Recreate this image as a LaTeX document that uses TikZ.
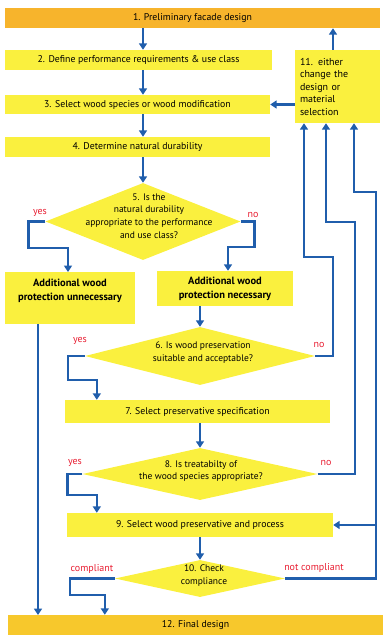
\documentclass[tikz,border=0pt]{standalone}
\usepackage{fontspec}
\setmainfont{PT Sans}
\usetikzlibrary{positioning,arrows.meta,shapes.geometric,calc}
\definecolor{flowblue}{RGB}{32,94,172}
\definecolor{stepyellow}{RGB}{250,240,62}
\definecolor{startorange}{RGB}{247,180,44}
\definecolor{finalorange}{RGB}{247,200,44}
\definecolor{answerred}{RGB}{232,30,50}

\begin{document}
\begin{tikzpicture}[
    x=1pt, y=-1pt,
    stepbox/.style={fill=stepyellow, inner sep=0pt, align=center,
                    font=\fontsize{9.8}{11}\selectfont},
    protbox/.style={stepbox, font=\fontsize{10.5}{14}\selectfont\bfseries},
    dia/.style={diamond, fill=stepyellow, inner sep=0pt},
    qtext/.style={align=center, inner sep=0pt, font=\fontsize{9.5}{12.8}\selectfont},
    arr/.style={-{Triangle[length=6.5pt,width=8pt]}, draw=flowblue, line width=2.5pt},
    ans/.style={font=\fontsize{10}{11}\selectfont, text=answerred, inner sep=1pt}
  ]
  \useasboundingbox (0,0) rectangle (389,640);

  % ===== Upper steps =====
  \node[stepbox, fill=startorange, minimum width=375pt, minimum height=20pt] (b1) at (192.5,18) {1. Preliminary facade design};
  \node[stepbox, minimum width=267pt, minimum height=20pt] (b2) at (138.5,60) {2. Define performance requirements \& use class};
  \node[stepbox, minimum width=265pt, minimum height=19pt] (b3) at (137.5,104.5) {3. Select wood species or wood modification};
  \node[stepbox, minimum width=265pt, minimum height=20pt] (b4) at (137.5,147) {4. Determine natural durability};
  \node[stepbox, align=left, text width=75pt, minimum width=85pt, minimum height=73pt,
        font=\fontsize{10}{12.5}\selectfont] (b11) at (337.5,86.5) {11. either\\change the\\design or\\material\\selection};

  \draw[arr] (b1.south -| b4.south) ++(5.5,0) -- ($(b2.north)+(4.5,0)$);
  \draw[arr] ($(b2.south)+(4.5,0)$) -- ($(b3.north)+(5.5,0)$);
  \draw[arr] ($(b3.south)+(5.5,0)$) -- ($(b4.north)+(5.5,0)$);
  \draw[arr] ([xshift=-4.5pt]b11.north) -- ([xshift=-4.5pt]b11.north |- b1.south);
  \draw[arr] (b11.west |- b3.east) -- (b3.east);

  % ===== Question 5: natural durability =====
  \node[dia, minimum width=195pt, minimum height=77pt] (d5) at (143,221.5) {};
  \node[qtext] (q5) at (149,216) {5. Is the\\natural durability\\appropriate to the performance\\and use class?};
  \draw[arr] ($(b4.south)+(5.5,0)$) -- (d5.north);
  \node[protbox, text depth=16pt, inner ysep=7pt, minimum width=130pt] (nu) at (70,272) [anchor=north] {Additional wood\\protection unnecessary};
  \node[protbox, minimum width=136pt, minimum height=35pt] (nn) at (225,288.5) {Additional wood\\protection necessary};
  \draw[arr] (d5.west) -- ++(-17,0) |- ($(nu.north)+(-2,-24)$) -- ($(nu.north)+(-2,0)$);
  \draw[arr] (d5.east) -- ++(14,0) |- ($(nn.north)+(3,-24)$) -- ($(nn.north)+(3,0)$);
  \node[ans] (y5) at (40,213) {yes};
  \node[ans] (n5) at (253,215) {no};
  \draw[arr] ([xshift=-32pt]nu.south) -- ([xshift=-32pt]nu.south |- 0,615);

  % ===== Question 6: wood preservation =====
  \node[dia, minimum width=230pt, minimum height=58pt] (d6) at (200,356) {};
  \node[qtext] (q6) at (203,352.5) {6. Is wood preservation\\suitable and acceptable?};
  \draw[arr] (nn.south -| d6.north) -- (d6.north);
  \node[stepbox, minimum width=265pt, minimum height=23pt] (b7) at (197.5,411.5) {7. Select preservative specification};
  \draw[arr] (d6.west) -- ++(-17,0) |- ($(b7.north west)+(32,-20)$) -- ($(b7.north west)+(32,0)$);
  \draw[arr] (d6.east) -- ++(18,0) |- ($(b11.south)+(-33.5,134)$) -- ($(b11.south)+(-33.5,0)$);
  \node[ans] (y6) at (80,341) {yes};
  \node[ans] (n6) at (319,345) {no};

  % ===== Question 8: treatability =====
  \node[dia, minimum width=235pt, minimum height=52pt] (d8) at (200,474) {};
  \node[qtext] (q8) at (201,471) {8. Is treatabilty of\\the wood species appropriate?};
  \draw[arr] (b7.south -| d8.north) -- (d8.north);
  \node[stepbox, minimum width=266pt, minimum height=24pt] (b9) at (200,525) {9. Select wood preservative and process};
  \draw[arr] (d8.west) -- ++(-15,0) |- ($(b9.north west)+(30,-18)$) -- ($(b9.north west)+(30,0)$);
  \draw[arr] (d8.east) -- ++(37.5,0) |- ($(b11.south)+(-11.5,99)$) -- ($(b11.south)+(-11.5,0)$);
  \node[ans] (y8) at (75,463) {yes};
  \node[ans] (n8) at (326,463) {no};

  % ===== Question 10: compliance =====
  \node[dia, minimum width=170pt, minimum height=37pt] (d10) at (200,578.5) {};
  \node[qtext] (q10) at (204,575.5) {10. Check\\compliance};
  \draw[arr] (b9.south -| d10.north) -- (d10.north);
  \node[stepbox, fill=finalorange, minimum width=375pt, minimum height=20pt] (b12) at (195.5,625) {12. Final design};
  \coordinate (nc) at ($(d10.east)+(91,0)$);
  \draw[arr] (d10.west) -- ++(-45,0) |- ($(b12.north west)+(97,-20)$) -- ($(b12.north west)+(97,0)$);
  \draw[arr] (d10.east) -- (nc) |- ($(b11.south)+(16.5,69)$) -- ($(b11.south)+(16.5,0)$);
  \draw[arr] (nc |- b9.east) -- (b9.east);
  \node[ans] (c10) at (92,569) {compliant};
  \node[ans] (nc10) at (314,568) {not compliant};
\end{tikzpicture}
\end{document}
